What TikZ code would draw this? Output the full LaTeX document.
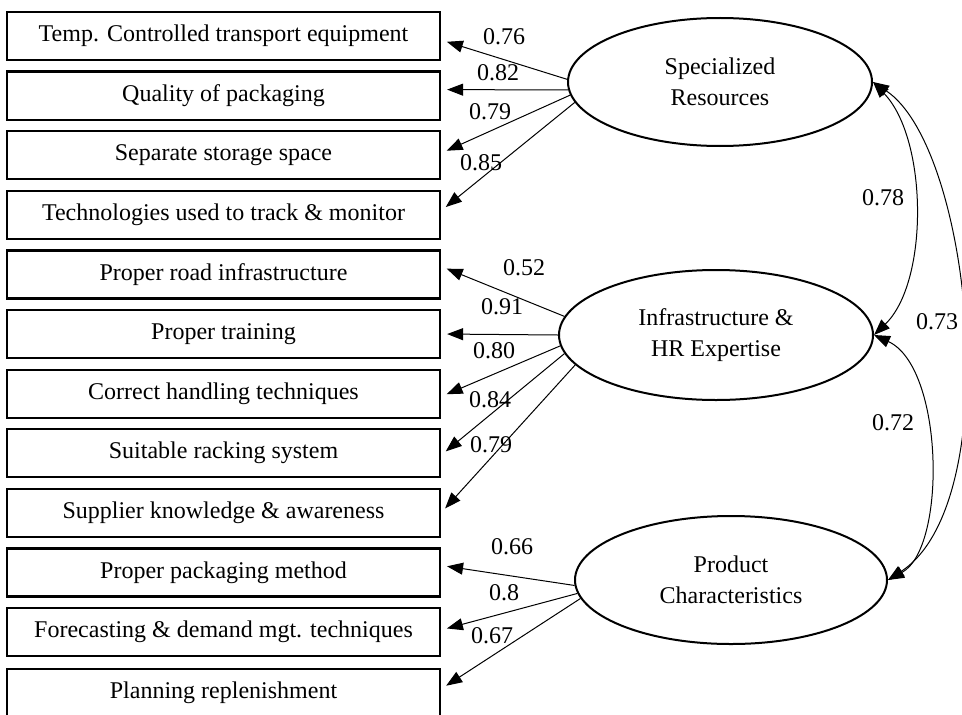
\documentclass[tikz,border=0pt]{standalone}
\usepackage{fontspec}
\setmainfont{Liberation Serif}
\usetikzlibrary{arrows.meta,shapes.geometric}

\begin{document}
\begin{tikzpicture}[x=0.5pt, y=0.5pt,
		font=\fontsize{12}{15.5}\selectfont,
		item/.style={draw, line width=1.1pt, minimum width=216.5pt, minimum height=24pt, inner sep=0pt},
		factor/.style={draw, ellipse, line width=1pt, align=center, inner sep=0pt},
		load/.style={-{Triangle[length=8pt,width=6pt]}, line width=0.5pt, shorten >=3pt},
		cov/.style={{Triangle[length=8pt,width=6pt]}-{Triangle[length=8pt,width=6pt]}, line width=0.5pt},
		coef/.style={inner sep=0pt}]
		%%%%% START %%%%%
		\useasboundingbox (0, 0) rectangle (962, 714);
		
		\node[item] (b1) at (223.5, 678) {Temp. Controlled transport equipment};
		\node[item] (b2) at (223.5, 618.4) {Quality of packaging};
		\node[item] (b3) at (223.5, 558.8) {Separate storage space};
		\node[item] (b4) at (223.5, 499.2) {Technologies used to track \& monitor};
		\node[item] (b5) at (223.5, 439.6) {Proper road infrastructure};
		\node[item] (b6) at (223.5, 380) {Proper training};
		\node[item] (b7) at (223.5, 320.4) {Correct handling techniques};
		\node[item] (b8) at (223.5, 260.8) {Suitable racking system};
		\node[item] (b9) at (223.5, 201.2) {Supplier knowledge \& awareness};
		\node[item] (b10) at (223.5, 141.6) {Proper packaging method};
		\node[item] (b11) at (223.5, 82) {Forecasting \& demand mgt. techniques};
		\node[item] (b12) at (223.5, 21) {Planning replenishment};
		
		\node[factor, minimum width=152pt, minimum height=64pt] (sr) at (720, 632) {Specialized\\Resources};
		\node[factor, minimum width=157pt, minimum height=65pt] (ir) at (716, 379) {Infrastructure \&\\HR Expertise};
		\node[factor, minimum width=156pt, minimum height=64pt] (pc) at (731, 134) {Product\\Characteristics};
		
		\draw[load] (sr.179) -- ([yshift=-2pt]b1.east);
		\draw[load] (sr.183) -- ([yshift=3pt]b2.east);
		\draw[load] (sr.185) -- ([yshift=1pt]b3.east);
		\draw[load] (sr.188) -- ([yshift=2pt]b4.east);
		
		\draw[load] (ir.173) -- ([yshift=4pt]b5.east);
		\draw[load] (ir.180) -- (b6.east);
		\draw[load] (ir.184) -- ([yshift=-1.5pt]b7.east);
		\draw[load] (ir.187.5) -- ([yshift=-1pt]b8.east);
		\draw[load] (ir.192.5) -- (b9.east);
		
		\draw[load] (pc.182) -- ([yshift=3.5pt]b10.east);
		\draw[load] (pc.185) -- ([yshift=1pt]b11.east);
		\draw[load] (pc.187) -- ([yshift=2pt]b12.east);
		
		\node[coef] (l1) at (504, 677) {0.76};
		\node[coef] (l2) at (498, 641) {0.82};
		\node[coef] (l3) at (490, 602) {0.79};
		\node[coef] (l4) at (481, 551) {0.85};
		\node[coef] (l5) at (524, 446) {0.52};
		\node[coef] (l6) at (502, 407) {0.91};
		\node[coef] (l7) at (494, 363) {0.80};
		\node[coef] (l8) at (490, 314) {0.84};
		\node[coef] (l9) at (491, 269) {0.79};
		\node[coef] (l10) at (512, 167) {0.66};
		\node[coef] (l11) at (504, 121) {0.8};
		\node[coef] (l12) at (492, 78) {0.67};
		
		\draw[cov] (sr.east) .. controls +(55, -57) and +(55, 53) .. (ir.east);
		\draw[cov] (ir.east) .. controls +(70, -32) and +(59, 32) .. (pc.east);
		\draw[cov] (sr.east) .. controls +(99, -66) and +(119, 78) .. (pc.east);
		
		\node[coef] (c1) at (883, 516) {0.78};
		\node[coef] (c2) at (893, 291) {0.72};
		\node[coef] (c3) at (937, 392) {0.73};
		%%%%% END %%%%%
	\end{tikzpicture}
\end{document}
